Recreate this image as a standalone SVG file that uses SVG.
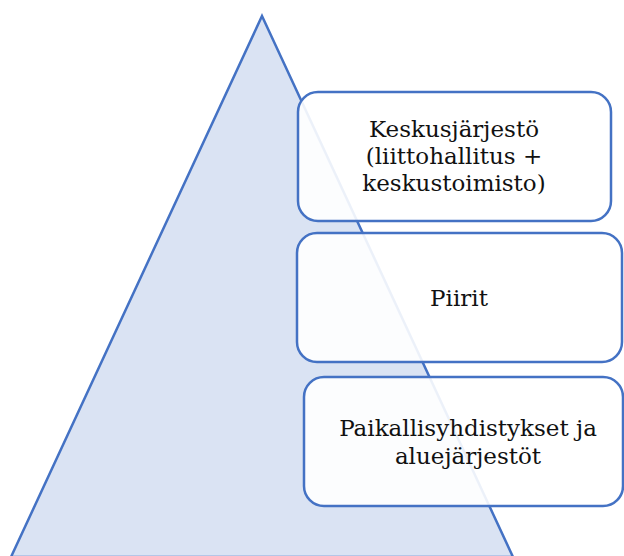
<svg xmlns="http://www.w3.org/2000/svg" width="624" height="556" viewBox="0 0 624 556">
<style>
.tri{fill:#DAE3F3;stroke:#4472C4;stroke-width:2.5;stroke-linejoin:miter}
.box{fill:#FFFFFF;fill-opacity:0.9;stroke:#4472C4;stroke-width:2.5}
.t{font-family:"DejaVu Serif","Liberation Serif",serif;font-size:23px;fill:#111;text-anchor:middle}
</style>
<rect width="624" height="556" fill="#FFFFFF"/>
<g id="pyramid"><polygon class="tri" points="262,16 513,557 11,557"/></g>
<g id="connectors"></g>
<g id="node-keskus">
<rect class="box" x="298" y="92" width="313" height="129" rx="20"/>
<text class="t" x="454" y="137">Keskusjärjestö</text>
<text class="t" x="454" y="164">(liittohallitus +</text>
<text class="t" x="454" y="191">keskustoimisto)</text>
</g>
<g id="node-piirit">
<rect class="box" x="297" y="233" width="325" height="129" rx="20"/>
<text class="t" x="459" y="306">Piirit</text>
</g>
<g id="node-paikallis">
<rect class="box" x="304" y="377" width="319" height="129" rx="20"/>
<text class="t" x="468" y="436">Paikallisyhdistykset ja</text>
<text class="t" x="468" y="464">aluejärjestöt</text>
</g>
</svg>
